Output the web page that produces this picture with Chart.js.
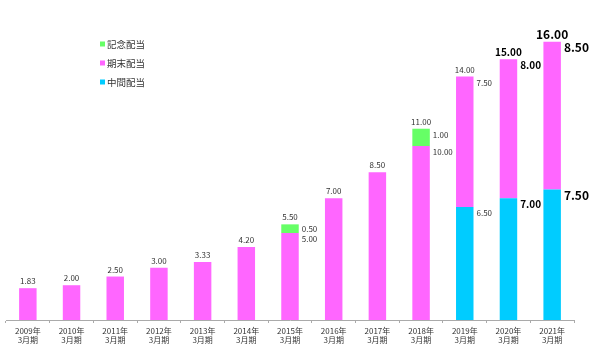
<!DOCTYPE html>
<html><head><meta charset="utf-8">
<script src="https://cdn.jsdelivr.net/npm/chart.js@4.4.0/dist/chart.umd.min.js"></script>
<style>html,body{margin:0;padding:0;background:#fff;}canvas{display:block;}</style>
</head><body>
<canvas id="c" width="615" height="359"></canvas>
<script>
// ---- data ----
const years = ['2009年','2010年','2011年','2012年','2013年','2014年','2015年','2016年','2017年','2018年','2019年','2020年','2021年'];
const periodLabel = '3月期';
const interim = [0,0,0,0,0,0,0,0,0,0,6.5,7.0,7.5];          // 中間配当
const yearEnd = [1.83,2.00,2.50,3.00,3.33,4.20,5.00,7.00,8.50,10.00,7.50,8.00,8.50]; // 期末配当
const commemorative = [0,0,0,0,0,0,0.5,0,0,1.00,0,0,0];     // 記念配当
const seriesNames = ['中間配当','期末配当','記念配当'];

// ---- styles ----
const colors = ['#00CCFF','#FF66FF','#66FF66'];
const FONT = "'Noto Sans CJK JP', 'Noto Sans', sans-serif";
function labelFont(i){
  if (i === years.length - 1) return {size: 12, weight: 'bold', color: '#000'};
  if (i === years.length - 2) return {size: 10, weight: 'bold', color: '#000'};
  return {size: 8, weight: 'normal', color: '#333'};
}

const valueLabels = {
  id: 'valueLabels',
  afterDatasetsDraw(chart){
    const ctx = chart.ctx;
    const n = years.length;
    ctx.save();
    for (let i = 0; i < n; i++){
      const f = labelFont(i);
      ctx.font = f.weight + ' ' + f.size + 'px ' + FONT;
      ctx.fillStyle = f.color;
      let total = 0, topEl = null, nonzero = 0;
      chart.data.datasets.forEach((ds, d) => {
        const v = ds.data[i];
        if (v > 0){ total += v; nonzero++; topEl = chart.getDatasetMeta(d).data[i]; }
      });
      if (!topEl) continue;
      ctx.textAlign = 'center';
      ctx.textBaseline = 'middle';
      ctx.fillText(total.toFixed(2), topEl.x, topEl.y - 7);
      if (nonzero > 1){
        ctx.textAlign = 'left';
        chart.data.datasets.forEach((ds, d) => {
          const v = ds.data[i];
          if (!(v > 0)) return;
          const el = chart.getDatasetMeta(d).data[i];
          const h = el.base - el.y;
          const y = el.y + Math.min(h / 2, 6);
          ctx.fillText(v.toFixed(2), el.x + el.width / 2 + 3, y);
        });
      }
    }
    ctx.restore();
  }
};

const customLegend = {
  id: 'customLegend',
  afterDraw(chart){
    const ctx = chart.ctx;
    ctx.save();
    ctx.font = "9.5px " + FONT;
    ctx.textBaseline = 'middle';
    ctx.textAlign = 'left';
    const order = [2,1,0];
    order.forEach((d, k) => {
      const y = 44 + k * 19;
      ctx.fillStyle = chart.data.datasets[d].backgroundColor;
      ctx.fillRect(100, y - 2.5, 5, 5);
      ctx.fillStyle = '#333';
      ctx.fillText(chart.data.datasets[d].label, 107, y);
    });
    ctx.restore();
  }
};

new Chart(document.getElementById('c'), {
  type: 'bar',
  data: {
    labels: years.map(y => [y, periodLabel]),
    datasets: [
      {label: seriesNames[0], data: interim, backgroundColor: colors[0]},
      {label: seriesNames[1], data: yearEnd, backgroundColor: colors[1]},
      {label: seriesNames[2], data: commemorative, backgroundColor: colors[2]}
    ]
  },
  options: {
    responsive: false,
    animation: false,
    devicePixelRatio: 1,
    layout: {padding: {left: 6, right: 41, top: 7, bottom: 0}},
    datasets: {bar: {barPercentage: 0.4, categoryPercentage: 1.0, borderWidth: 0}},
    plugins: {legend: {display: false}, tooltip: {enabled: false}},
    scales: {
      x: {
        stacked: true,
        grid: {drawOnChartArea: false, drawTicks: true, tickLength: 3, color: '#aaa'},
        border: {display: true, color: '#aaa', width: 1},
        ticks: {color: '#333', font: {size: 8, family: FONT, lineHeight: 1.15}, padding: 3, maxRotation: 0, autoSkip: false},
        afterFit(scale){ scale.height = 39; }
      },
      y: {stacked: true, display: false, min: 0, max: 18}
    }
  },
  plugins: [valueLabels, customLegend]
});
</script>
</body></html>
